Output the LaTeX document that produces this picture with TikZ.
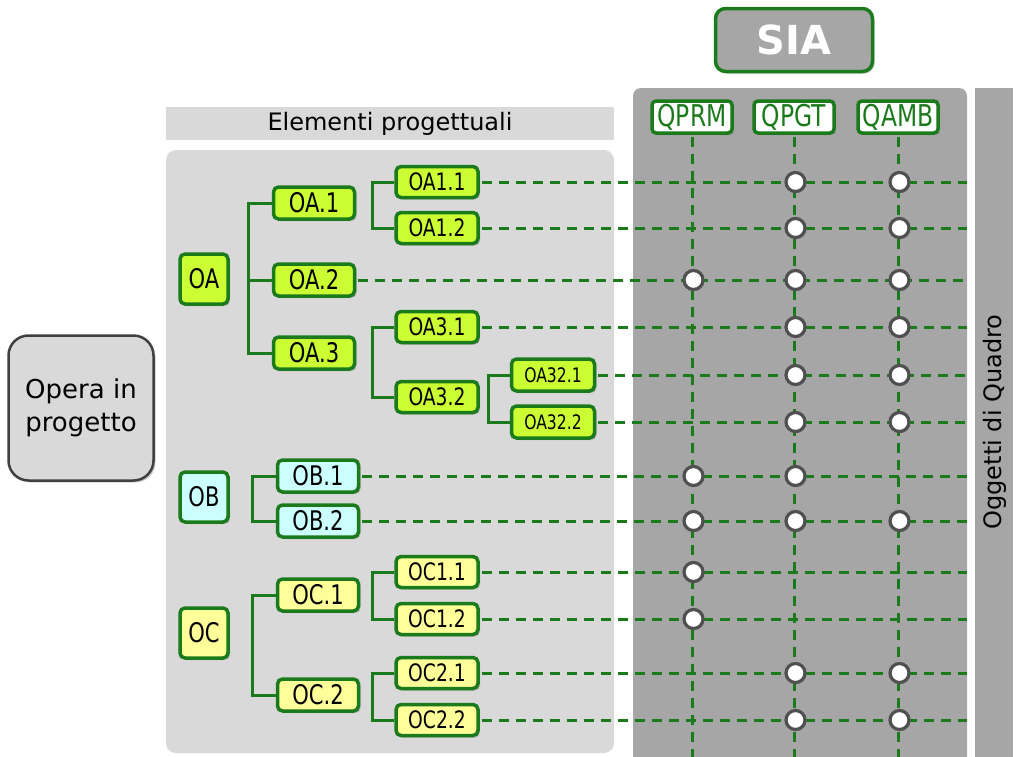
\documentclass[tikz,border=0pt]{standalone}
\usepackage{fontspec}
\setmainfont{DejaVu Sans}
\newfontfamily\lab[FakeStretch=0.78]{DejaVu Sans}
\usetikzlibrary{shadows}
\definecolor{dg}{HTML}{1B7A1B}
\definecolor{panel}{HTML}{D9D9D9}
\definecolor{dpanel}{HTML}{A6A6A6}
\definecolor{fa}{HTML}{CCFF33}
\definecolor{fb}{HTML}{CCFFFF}
\definecolor{fc}{HTML}{FFFF99}
\definecolor{cb}{HTML}{505050}
\definecolor{ob}{HTML}{404040}
\begin{document}
\begin{tikzpicture}[x=1pt,y=-1pt,
  shad/.style={drop shadow={shadow xshift=2pt,shadow yshift=-2pt,opacity=0.4}},
  obox/.style={draw=dg, line width=3.5pt, rounded corners=5pt, inner sep=0pt, shad},
  lvlzero/.style={obox, minimum width=48pt, minimum height=50pt, font=\lab\fontsize{27}{27}\selectfont},
  lvlone/.style={obox, minimum width=81pt, minimum height=32pt, font=\lab\fontsize{27}{27}\selectfont},
  lvltwo/.style={obox, minimum width=82pt, minimum height=31pt, font=\lab\fontsize{24}{24}\selectfont},
  lvlthree/.style={obox, minimum width=83pt, minimum height=32pt, font=\lab\fontsize{20}{20}\selectfont},
  qbox/.style={draw=dg, line width=3.5pt, rounded corners=4pt, fill=white, text=dg, inner sep=0pt,
     minimum width=80pt, minimum height=32pt, font=\lab\fontsize{30}{30}\selectfont, shad},
  tl/.style={draw=dg, line width=3pt},
  dl/.style={draw=dg, line width=3pt, dash pattern=on 10pt off 7pt},
  dot/.style={circle, draw=cb, fill=white, line width=3.2pt, minimum size=19pt, inner sep=0pt,
     drop shadow={shadow xshift=1.5pt,shadow yshift=-1.5pt,opacity=0.4}}
]
\useasboundingbox (0,0) rectangle (1024,756);
\clip (0,0) rectangle (1024,756);
\fill[white] (0,0) rectangle (1024,756);
% panels
\fill[panel] (166,107) rectangle (614,140);
\node[font=\fontsize{24}{24}\selectfont] (hdr) at (390,124) {Elementi progettuali};
\fill[panel, rounded corners=10pt] (166,150) rectangle (614,753);
\fill[dpanel, rounded corners=8pt] (633,88) rectangle (967,790);
\fill[dpanel] (975,88) rectangle (1013,790);
\node[rotate=90, font=\fontsize{24}{24}\selectfont] (ogg) at (995,422) {Oggetti di Quadro};
% SIA
\node[draw=dg, line width=3.5pt, rounded corners=10pt, fill=dpanel, text=white, minimum width=157pt,
  minimum height=63pt, font=\fontsize{40}{40}\selectfont\bfseries, shad] (SIA) at (794,40) {SIA};
% Opera
\node[draw=ob, line width=2.5pt, rounded corners=20pt, fill=panel, minimum width=145pt, minimum height=145pt,
  align=center, font=\fontsize{26}{33}\selectfont, shad] (opera) at (81,408) {Opera in\\progetto};
% Q boxes
\node[qbox] (QPRM) at (692,117) {QPRM};
\node[qbox] (QPGT) at (794,117) {QPGT};
\node[qbox] (QAMB) at (898,117) {QAMB};
% tree nodes
\node[lvlzero, fill=fa] (OA) at (204,279) {OA};
\node[lvlone, fill=fa] (OA1) at (314,203) {OA.1};
\node[lvlone, fill=fa] (OA2) at (314,280) {OA.2};
\node[lvlone, fill=fa] (OA3) at (314,353) {OA.3};
\node[lvltwo, fill=fa] (OA11) at (437,182) {OA1.1};
\node[lvltwo, fill=fa] (OA12) at (437,228) {OA1.2};
\node[lvltwo, fill=fa] (OA31) at (437,327) {OA3.1};
\node[lvltwo, fill=fa] (OA32) at (437,397) {OA3.2};
\node[lvlthree, fill=fa] (OA321) at (553,375) {OA32.1};
\node[lvlthree, fill=fa] (OA322) at (553,422) {OA32.2};
\node[lvlzero, fill=fb] (OB) at (204,497) {OB};
\node[lvlone, fill=fb] (OB1) at (318,476) {OB.1};
\node[lvlone, fill=fb] (OB2) at (318,521) {OB.2};
\node[lvlzero, fill=fc] (OC) at (204,633) {OC};
\node[lvlone, fill=fc] (OC1) at (318,595) {OC.1};
\node[lvlone, fill=fc] (OC2) at (318,695) {OC.2};
\node[lvltwo, fill=fc] (OC11) at (437,572) {OC1.1};
\node[lvltwo, fill=fc] (OC12) at (437,619) {OC1.2};
\node[lvltwo, fill=fc] (OC21) at (437,673) {OC2.1};
\node[lvltwo, fill=fc] (OC22) at (437,720) {OC2.2};
% tree connectors
\draw[tl] (OA1.west) -- ++(-23,0) |- (OA3.west);
\draw[tl] (OA2.west) -- ++(-23,0);
\draw[tl] (OA11.west) -- ++(-22,0) |- (OA12.west);
\draw[tl] (OA31.west) -- ++(-22,0) |- (OA32.west);
\draw[tl] (OA321.west) -- ++(-21,0) |- (OA322.west);
\draw[tl] (OB1.west) -- ++(-23,0) |- (OB2.west);
\draw[tl] (OC1.west) -- ++(-23,0) |- (OC2.west);
\draw[tl] (OC11.west) -- ++(-22,0) |- (OC12.west);
\draw[tl] (OC21.west) -- ++(-22,0) |- (OC22.west);
% dashed grid
\coordinate (rgt) at (967,0);
\coordinate (bot) at (0,760);
\foreach \q in {QPRM,QPGT,QAMB}{
  \draw[dl, shorten <=1.75pt] (\q.south) -- (\q.south |- bot);
}
\foreach \n in {OA11,OA12,OA2,OA31,OA321,OA322,OB1,OB2,OC11,OC12,OC21,OC22}{
  \draw[dl, shorten <=1.75pt] (\n.east) -- (\n.east -| rgt);
}
% dots
\foreach \n/\cl in {OA11/{QPGT,QAMB}, OA12/{QPGT,QAMB}, OA2/{QPRM,QPGT,QAMB}, OA31/{QPGT,QAMB},
  OA321/{QPGT,QAMB}, OA322/{QPGT,QAMB}, OB1/{QPRM,QPGT}, OB2/{QPRM,QPGT,QAMB},
  OC11/{QPRM}, OC12/{QPRM}, OC21/{QPGT,QAMB}, OC22/{QPGT,QAMB}}{
  \foreach \q in \cl {
    \node[dot] (d-\n-\q) at ([xshift=1.5pt]\q.center |- \n.east) {};
  }
}
\end{tikzpicture}
\end{document}
